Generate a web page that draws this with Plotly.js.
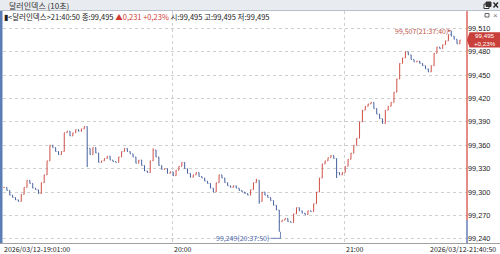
<!DOCTYPE html>
<html><head><meta charset="utf-8">
<script src="https://cdn.plot.ly/plotly-3.0.1.min.js"></script>
<style>html,body{margin:0;padding:0;background:#fff;}#c{width:500px;height:254px;}</style>
</head><body><div id="c"></div>
<script>
// ---- data (per-minute candles) ----
const startTime = '2026-03-12T19:01:00';
const firstOpen = 99.306;
const closes = [
 99.306,99.302,99.296,99.293,99.290,99.288,99.297,99.306,99.315,99.311,
 99.305,99.303,99.298,99.312,99.322,99.340,99.360,99.357,99.352,99.348,
 99.352,99.376,99.378,99.372,99.376,99.380,99.378,99.381,99.384,99.356,
 99.348,99.357,99.350,99.338,99.340,99.343,99.346,99.341,99.339,99.338,
 99.345,99.352,99.356,99.352,99.349,99.345,99.337,99.341,99.334,99.327,
 99.325,99.340,99.354,99.345,99.334,99.329,99.330,99.324,99.326,99.321,
 99.328,99.333,99.338,99.330,99.324,99.319,99.322,99.325,99.320,99.318,
 99.314,99.311,99.305,99.300,99.312,99.322,99.318,99.312,99.308,99.306,
 99.308,99.305,99.302,99.300,99.298,99.296,99.303,99.312,99.315,99.288,
 99.300,99.296,99.293,99.289,99.283,99.277,99.262,99.264,99.266,99.262,
 99.261,99.272,99.280,99.276,99.273,99.271,99.276,99.275,99.285,99.300,
 99.318,99.336,99.340,99.344,99.347,99.343,99.325,99.322,99.325,99.333,
 99.342,99.350,99.360,99.369,99.390,99.405,99.410,99.413,99.415,99.407,
 99.400,99.394,99.388,99.405,99.410,99.415,99.428,99.445,99.465,99.472,
 99.480,99.476,99.470,99.467,99.468,99.465,99.462,99.458,99.454,99.462,
 99.478,99.486,99.484,99.489,99.494,99.502,99.500,99.496,99.490,99.495
];
const wickLows  = [[29,99.332],[89,99.285],[96,99.249],[116,99.318]];
const wickHighs = [[52,99.356],[88,99.317],[156,99.507]];

const yTicks = [99.240,99.270,99.300,99.330,99.360,99.390,99.420,99.450,99.480,99.510];
const xGridTimes = ['2026-03-12 20:00:00','2026-03-12 21:00:00'];
const xLabels = ['2026/03/12-19:01:00','20:00','21:00','2026/03/12-21:40:50'];
const xRange = ['2026-03-12 19:01:03','2026-03-12 21:42:54'];
const yRange = [99.234, 99.5322];

const prevClose = 99.264;
const lastClose = 99.495;
const lastChangePct = '+0,23%';
const highPoint = ['2026-03-12 21:37:40', 99.507, '99,507(21:37:40)'];
const lowPoint  = ['2026-03-12 20:37:50', 99.249, '99,249(20:37:50)'];
const titleText = '달러인덱스 (10초)';
const infoParts = ['▮&lt;달러인덱스&gt;21:40:50 종:99,495', '▲0,231', '+0,23%', '시:99,495 고:99,495 저:99,495'];

// ---- build OHLC ----
const t0 = Date.parse(startTime + 'Z');
const fmt = ms => new Date(ms).toISOString().slice(0,19).replace('T',' ');
const times = closes.map((_, i) => fmt(t0 + i*60000 + 25000));
const opens = closes.map((c, i) => i === 0 ? firstOpen : closes[i-1]);
const highs = closes.map((c, i) => Math.max(c, opens[i]));
const lows  = closes.map((c, i) => Math.min(c, opens[i]));
wickLows.forEach(([i, v]) => lows[i] = v);
wickHighs.forEach(([i, v]) => highs[i] = v);

const RED = '#cf5048', BLUE = '#45609f';
const F = '"Noto Sans CJK KR", "Noto Sans", sans-serif';
const FN = '"Liberation Sans", Arial, sans-serif';
const W = 500, H = 254;
const px = x => x / W, py = y => (H - y) / H;

const trace = {
  type: 'ohlc', x: times, open: opens, high: highs, low: lows, close: closes,
  increasing: {line: {color: RED, width: 1}},
  decreasing: {line: {color: BLUE, width: 1}},
  tickwidth: 0.25, hoverinfo: 'skip', showlegend: false
};

const shapes = [
  // title bar
  {type:'rect', xref:'paper', yref:'paper', x0:0, x1:1, y0:py(10.5), y1:1, fillcolor:'#e8ebf0', line:{width:0}, layer:'below'},
  {type:'line', xref:'paper', yref:'paper', x0:0, x1:1, y0:py(10.5), y1:py(10.5), line:{color:'#b9c1cc', width:1}},
  // left blue strip
  {type:'rect', xref:'paper', yref:'paper', x0:0, x1:px(2.5), y0:py(243.5), y1:py(11), fillcolor:'#5a7db6', line:{width:0}},
  // bottom axis line
  {type:'line', xref:'paper', yref:'paper', x0:0, x1:1, y0:py(243.5), y1:py(243.5), line:{color:'#a0a0a0', width:1}},
  // right axis line: red above previous close, blue below
  {type:'line', xref:'paper', yref:'y', x0:px(467), x1:px(467), y0:prevClose, y1:yRange[1], line:{color:'#d2413a', width:1.2}},
  {type:'line', xref:'paper', yref:'y', x0:px(467), x1:px(467), y0:yRange[0], y1:prevClose, line:{color:'#3f5ea6', width:1.2}},
  // current price box with pointer
  {type:'path', xref:'paper', yref:'y', xsizemode:'pixel', ysizemode:'pixel', xanchor:px(467), yanchor:lastClose,
   path:'M0,0 L2.5,7.8 L33,7.8 L33,-7.6 L2.5,-7.6 Z', fillcolor:'#c9403a', line:{width:0}},
  // low marker elbow
  {type:'path', xref:'x', yref:'y', xsizemode:'pixel', ysizemode:'pixel', xanchor:lowPoint[0], yanchor:lowPoint[1],
   path:'M-10,-6.5 L0,-6.5 L0,0', line:{color:'#4a64a8', width:0.8}},
  // window icons
  {type:'rect', xref:'paper', yref:'paper', x0:px(484), x1:px(489), y0:py(8.5), y1:py(4), line:{color:'#333', width:1}, fillcolor:'#fff'},
  {type:'rect', xref:'paper', yref:'paper', x0:px(486), x1:px(491), y0:py(6.5), y1:py(2), line:{color:'#333', width:1}, fillcolor:'#333'},
  {type:'line', xref:'paper', yref:'paper', x0:px(493.5), x1:px(498), y0:py(2.5), y1:py(7.5), line:{color:'#222', width:1.3}},
  {type:'line', xref:'paper', yref:'paper', x0:px(493.5), x1:px(498), y0:py(7.5), y1:py(2.5), line:{color:'#222', width:1.3}},
  {type:'rect', xref:'paper', yref:'paper', x0:px(485), x1:px(489), y0:py(17), y1:py(13.5), line:{color:'#666', width:1}, fillcolor:'#fff'}
];

const annotations = [
  {xref:'paper', yref:'paper', x:px(7), y:py(5.3), xanchor:'left', yanchor:'middle', showarrow:false,
   text:titleText, font:{family:F, size:8, color:'#333'}},
  {xref:'paper', yref:'paper', x:px(495), y:py(15.3), xanchor:'center', yanchor:'middle', showarrow:false,
   text:'×', font:{family:FN, size:8, color:'#777'}},
  {xref:'paper', yref:'paper', x:px(2), y:py(17), xanchor:'left', yanchor:'middle', showarrow:false,
   text: infoParts[0] + ' <span style="color:#d03a32">' + infoParts[1] + '</span> <span style="color:#d03a32">' + infoParts[2] + '</span> ' + infoParts[3],
   font:{family:F, size:7.5, color:'#222'}},
  // x tick labels
  {xref:'paper', yref:'paper', x:px(2), y:py(249), xanchor:'left', yanchor:'middle', showarrow:false,
   text:xLabels[0], font:{family:F, size:7, color:'#222'}},
  {xref:'x', yref:'paper', x:xGridTimes[0], y:py(249), xanchor:'left', yanchor:'middle', showarrow:false,
   text:xLabels[1], font:{family:F, size:7, color:'#222'}},
  {xref:'x', yref:'paper', x:xGridTimes[1], y:py(249), xanchor:'left', yanchor:'middle', showarrow:false,
   text:xLabels[2], font:{family:F, size:7, color:'#222'}},
  {xref:'paper', yref:'paper', x:px(498), y:py(249), xanchor:'right', yanchor:'middle', showarrow:false,
   text:xLabels[3], font:{family:F, size:7, color:'#222'}},
  // high / low markers
  {xref:'x', yref:'y', x:highPoint[0], y:highPoint[1], text:highPoint[2], showarrow:true, ax:-31, ay:0,
   arrowhead:2, arrowsize:0.7, arrowwidth:0.8, arrowcolor:'#c0554c', standoff:1,
   font:{family:F, size:7, color:'#c0554c'}},
  {xref:'x', yref:'y', x:lowPoint[0], y:lowPoint[1], text:lowPoint[2], showarrow:false, xanchor:'right', yanchor:'middle',
   xshift:-9, yshift:-6.5, font:{family:F, size:7, color:'#4a64a8'}},
  // current price label (two lines in one text)
  {xref:'paper', yref:'y', x:px(484.5), y:lastClose, xanchor:'center', yanchor:'middle', showarrow:false, yshift:0.3,
   text: lastClose.toFixed(3).replace('.', ',') + '<br>' + lastChangePct, align:'center', borderpad:0,
   font:{family:FN, size:6.2, color:'#fff'}}
];

const layout = {
  width: W, height: H, margin: {l:0, r:0, t:0, b:0},
  paper_bgcolor: '#fff', plot_bgcolor: '#fff', separators: ',.',
  showlegend: false, dragmode: false,
  xaxis: {type:'date', domain:[px(3), px(467)], range:xRange, tickvals:xGridTimes, showticklabels:false,
          showgrid:true, gridcolor:'#cfcfcf', griddash:'dot', gridwidth:1, zeroline:false, showline:false,
          rangeslider:{visible:false}, fixedrange:true},
  yaxis: {side:'right', domain:[py(243.5), py(11)], range:yRange, tickvals:yTicks, tickformat:'.3f',
          showgrid:true, gridcolor:'#cfcfcf', griddash:'dot', gridwidth:1, zeroline:false, showline:false,
          ticks:'', tickfont:{family:FN, size:7.3, color:'#222'}, fixedrange:true},
  shapes: shapes, annotations: annotations
};

Plotly.newPlot('c', [trace], layout, {staticPlot:true, displayModeBar:false});
</script></body></html>
